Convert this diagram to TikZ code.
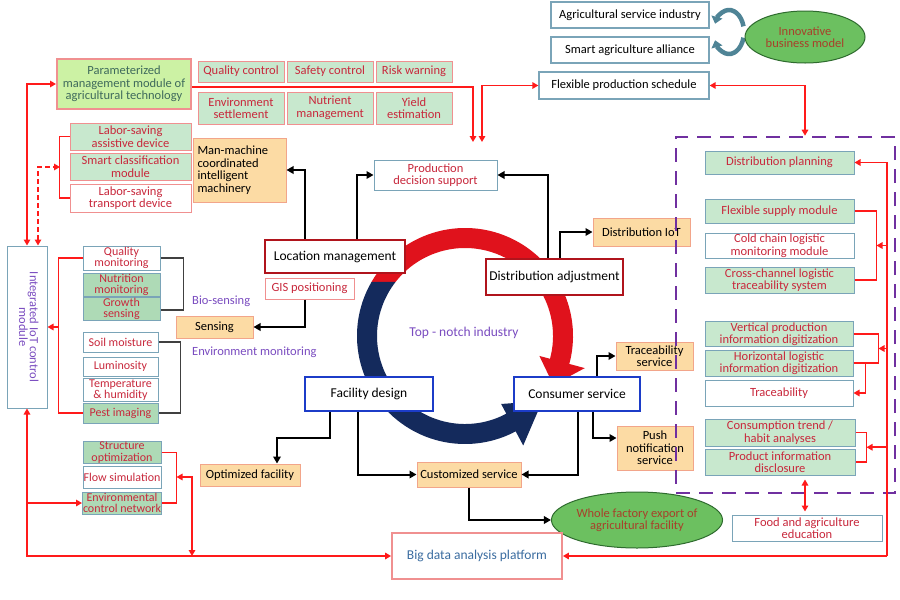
\documentclass[tikz,border=0pt]{standalone}
\usepackage{fontspec}
\setmainfont{Carlito}
\usetikzlibrary{arrows.meta,calc,shapes.geometric}
\definecolor{rtx}{HTML}{C8283C}
\definecolor{salm}{HTML}{F09090}
\definecolor{grn}{HTML}{C8E8CE}
\definecolor{grn2}{HTML}{AEDAB6}
\definecolor{stl}{HTML}{7AA4B8}
\definecolor{org}{HTML}{FCDBA4}
\definecolor{orgb}{HTML}{F2A58A}
\definecolor{lred}{HTML}{FF1A1A}
\definecolor{dred}{HTML}{B0141C}
\definecolor{dblue}{HTML}{1C3CC8}
\definecolor{navy}{HTML}{142A5C}
\definecolor{arcred}{HTML}{E0121C}
\definecolor{purp}{HTML}{7A4CC0}
\definecolor{dpurp}{HTML}{7030A0}
\definecolor{elg}{HTML}{6CC060}
\definecolor{elgb}{HTML}{2E6B2E}
\definecolor{brtx}{HTML}{A8402A}
\definecolor{ptx}{HTML}{3F6A5C}
\definecolor{bdtx}{HTML}{3A6CA0}
\definecolor{pfill}{HTML}{CCF2A4}
\definecolor{cyc}{HTML}{4F8496}
\newcommand\fs{\fontsize{12.5}{12.5}\selectfont}
\newcommand\fss{\fontsize{12}{11.5}\selectfont}
\newcommand\fl{\fontsize{13.5}{15}\selectfont}
\newcommand\mybox[7]{\node[#2,minimum width={(#5-#3)*1pt},minimum height={(#6-#4)*1pt}] (#1) at ({(#3+#5)/2},{(#4+#6)/2}) {#7};}
\tikzset{
 base/.style={draw, inner sep=0.5pt, align=center, font=\fs, line width=1pt},
 gs/.style={base, fill=grn, draw=salm, text=rtx},
 ws/.style={base, fill=white, draw=salm, text=rtx},
 gb/.style={base, fill=grn, draw=stl, text=rtx},
 gb2/.style={base, fill=grn2, draw=stl, text=rtx, font=\fss},
 wb/.style={base, fill=white, draw=stl, text=rtx},
 wbs/.style={wb, font=\fss},
 ob/.style={base, fill=org, draw=orgb, text=black},
 kb/.style={base, fill=white, draw=stl, line width=1.3pt, text=black},
 pm/.style={base, fill=pfill, draw=salm, line width=2pt, text=ptx},
 rbig/.style={base, fill=white, draw=dred, line width=2.6pt, font=\fl},
 bbig/.style={base, fill=white, draw=dblue, line width=2.6pt, font=\fl},
 bd/.style={base, fill=white, draw=salm, line width=1.8pt, text=bdtx, font=\fl},
 ell/.style={ellipse, draw=elgb, line width=1pt, fill=elg, text=brtx, align=center, font=\fs, inner sep=0pt},
 rl/.style={draw=lred, line width=1.6pt},
 rla/.style={rl, -{Triangle[length=6pt,width=6.5pt]}},
 rlb/.style={rl, {Triangle[length=6pt,width=6.5pt]}-{Triangle[length=6pt,width=6.5pt]}},
 bl/.style={draw=black, line width=2pt, -{Triangle[length=7pt,width=7.5pt]}},
 lbl/.style={text=purp, font=\fs, inner sep=0pt},
}
\begin{document}
\begin{tikzpicture}[x=1pt,y=-1pt]
\useasboundingbox (0,0) rectangle (900,600);
\fill[white] (0,0) rectangle (900,600);
% big cycle
\begin{scope}[shift={(465,336)},y=1pt]
\fill[arcred] (150:108) arc[start angle=150,end angle=-15,radius=108] -- (-15:124) -- (-29:101) -- (-15:77) -- (-15:88) arc[start angle=-15,end angle=142,radius=88] -- cycle;
\fill[navy] (150:108) arc[start angle=150,end angle=298,radius=108] -- (298:124) -- (320:101) -- (298:77) -- (298:88) arc[start angle=298,end angle=142,radius=88] -- cycle;
\end{scope}
% small cycle arrows
\begin{scope}[shift={(729,32)},y=1pt]
\draw[cyc, line width=4.5pt, -{Triangle[length=7pt,width=11pt]}] (15:15 and 22) arc[start angle=15,end angle=158,x radius=15,y radius=22];
\draw[cyc, line width=4.5pt, -{Triangle[length=7pt,width=11pt]}] (-15:15 and 22) arc[start angle=-15,end angle=-158,x radius=15,y radius=22];
\end{scope}
\node[lbl, font=\fl, text=purp] (tni) at (464,333) {Top - notch industry};
% top right
\mybox{asi}{kb}{551}{2}{709}{28}{Agricultural service industry}
\mybox{saa}{kb}{551}{37}{709}{63}{Smart agriculture alliance}
\mybox{fps}{kb}{539}{72}{709}{99}{Flexible production schedule}
\node[ell, minimum width=120pt, minimum height=52pt] (ibm) at (805,37) {Innovative\\business model};
% top left
\mybox{param}{pm}{57}{59}{191}{109}{Parameterized\\management module of\\agricultural technology}
\mybox{qc}{gs}{198}{61}{284}{82}{Quality control}
\mybox{sc}{gs}{287}{61}{373}{82}{Safety control}
\mybox{rw}{gs}{376}{61}{452}{82}{Risk warning}
\mybox{es}{gs}{198}{92}{284}{124}{Environment\\settlement}
\mybox{nm}{gs}{287}{92}{373}{124}{Nutrient\\management}
\mybox{ye}{gs}{376}{92}{452}{124}{Yield\\estimation}
\mybox{ls1}{gs}{70}{123}{191}{150}{Labor-saving\\assistive device}
\mybox{ls2}{gs}{70}{153}{191}{180}{Smart classification\\module}
\mybox{ls3}{ws}{70}{184}{191}{212}{Labor-saving\\transport device}
\mybox{mm}{ob,align=left,text width=84pt}{193}{138}{286}{202}{Man-machine\\coordinated\\intelligent\\machinery}
\mybox{pds}{wb}{374}{160}{497}{190}{Production\\decision support}
% centre
\mybox{loc}{rbig}{265}{240}{405}{273}{Location management}
\mybox{gis}{ws}{265}{278}{354}{299}{GIS positioning}
\mybox{sens}{ob}{176}{316}{253}{338}{Sensing}
\node[lbl, anchor=west] (bio) at (192,301) {Bio-sensing};
\node[lbl, anchor=west] (envm) at (192,352) {Environment monitoring};
\mybox{da}{rbig}{486}{259}{623}{295}{Distribution adjustment}
\mybox{fd}{bbig}{305}{377}{433}{411}{Facility design}
\mybox{cs}{bbig}{514}{377}{640}{411}{Consumer service}
\mybox{dio}{ob}{593}{218}{690}{246}{Distribution IoT}
\mybox{ts}{ob}{616}{342}{693}{370}{Traceability\\service}
\mybox{pns}{ob}{617}{426}{693}{470}{Push\\notification\\service}
\mybox{cust}{ob}{417}{462}{521}{487}{Customized service}
\mybox{of}{ob}{200}{464}{300}{486}{Optimized facility}
\node[ell, minimum width=164pt, minimum height=56pt] (wf) at (637,520) {Whole factory export of\\agricultural facility};
\mybox{bdp}{bd}{392}{533}{562}{579}{Big data analysis platform}
% IoT module
\mybox{iot}{wb,text=purp}{7}{246}{47}{408}{\rotatebox{-90}{\begin{tabular}{@{}c@{}}Integrated IoT control\\[-2pt] module\end{tabular}}}
% sensing group
\mybox{qm}{wbs}{83}{246}{160}{270}{Quality\\monitoring}
\mybox{nmo}{gb2}{83}{274}{160}{296}{Nutrition\\monitoring}
\mybox{gsn}{gb2}{83}{299}{160}{319}{Growth\\sensing}
\mybox{sm}{wbs}{83}{332}{158}{352}{Soil moisture}
\mybox{lum}{wbs}{83}{357}{158}{376}{Luminosity}
\mybox{th}{wbs}{83}{380}{158}{400}{Temperature\\\& humidity}
\mybox{pi}{gb2}{83}{403}{158}{423}{Pest imaging}
\mybox{so}{gb2}{83}{442}{161}{463}{Structure\\optimization}
\mybox{fs}{wbs}{83}{466}{161}{488}{Flow simulation}
\mybox{ecn}{gb2}{83}{492}{161}{514}{Environmental\\control network}
% right column
\mybox{dp}{gb}{705}{151}{854}{174}{Distribution planning}
\mybox{fsm}{gb}{705}{199}{854}{223}{Flexible supply module}
\mybox{ccm}{wb}{705}{233}{854}{258}{Cold chain logistic\\monitoring module}
\mybox{cct}{gb}{705}{267}{854}{293}{Cross-channel logistic\\traceability system}
\mybox{vp}{gb}{705}{322}{853}{346}{Vertical production\\information digitization}
\mybox{hl}{gb}{705}{350}{853}{376}{Horizontal logistic\\information digitization}
\mybox{tr}{wb}{705}{380}{853}{406}{Traceability}
\mybox{ct}{gb}{705}{419}{855}{446}{Consumption trend /\\habit analyses}
\mybox{pid}{gb}{705}{449}{855}{475}{Product information\\disclosure}
\mybox{fae}{wb}{732}{515}{882}{541}{Food and agriculture\\education}
% black connectors
\draw[bl] ([xshift=-30pt]loc.north) |- (mm.east);
\draw[bl] ([xshift=22pt]loc.north) |- (pds.west);
\draw[bl] ([xshift=-6.5pt]da.north) |- (pds.east);
\draw[bl] ([xshift=5.5pt]da.north) |- (dio.west);
\draw[bl] ([xshift=-4.5pt]gis.south) |- (sens.east);
\draw[bl] ([xshift=20pt]cs.north) |- (ts.west);
\draw[bl] ([xshift=16pt]cs.south) |- ([yshift=10pt]pns.west);
\draw[bl] ([xshift=1pt]cs.south) |- (cust.east);
\draw[bl] ([xshift=-11pt]fd.south) |- (cust.west);
\coordinate (ofk) at (277,438);
\draw[bl] ([xshift=-39pt]fd.south) |- (ofk) -- (ofk |- of.north);
\draw[bl] (cust.south) |- (wf.west);
% red connectors left
\draw[rlb] (iot.north) |- (param.west);
\coordinate (lsk) at (60,167);
\draw[rlb, dash pattern=on 5pt off 3pt] ([xshift=11pt]iot.north) |- (lsk);
\draw[rl] (ls1.west) -- ++(-10,0) |- (ls3.west);
\draw[rlb] (iot.south) |- (bdp.west);
\draw[rla] (iot.south |- ecn.west) -- (ecn.west);
\draw[rl] (qm.west) -- ++(-24,0) |- (pi.west);
\coordinate (sbk) at ([xshift=-24pt]qm.west);
\draw[rla] (sbk |- iot.east) -- (iot.east);
\draw[rl] (so.east) -- ++(15,0) |- (ecn.east);
\coordinate (bdk) at (192,556);
\draw[rlb] ([xshift=15pt]fs.east) -| (bdk);
% grey brackets
\draw[draw=black!75, line width=1.2pt] (qm.east) -- ++(23,0) |- ([yshift=-1pt]gsn.east);
\draw[draw=black!75, line width=1.2pt] (sm.east) -- ++(22,0) |- (pi.east);
% red connectors top
\coordinate (pk1) at (473,142);
\coordinate (pk2) at (482,142);
\draw[rla] ([yshift=-3pt]param.east) -| (pk1);
\draw[rlb] (pk2) |- (fps.west);
% dashed box
\node[draw=dpurp, line width=2.6pt, dash pattern=on 14pt off 9pt, minimum width=219pt, minimum height=356pt, inner sep=0pt] (dbox) at (785.5,315) {};
\draw[rlb] (fps.east) -| ([xshift=19.5pt]dbox.north);
% red connectors right
\coordinate (rk) at (887,556);
\draw[rla] (rk) |- (dp.east);
\draw[rla] (rk) -- (bdp.east);
\draw[rl] (fsm.east) -- ++(22,0) |- (cct.east);
\draw[rla] (rk |- ccm.east) -- ([xshift=22pt]ccm.east);
\draw[rl] (vp.east) -- ++(25,0) |- (hl.east);
\coordinate (vhm) at ($(vp.east)!0.5!(hl.east)+(25,0)$);
\draw[rla] (rk |- vhm) -- (vhm);
\draw[rla] (hl.east) -- ++(12,0) |- (tr.east);
\draw[rl] (ct.east) -- ++(11,0) |- (pid.east);
\coordinate (cpm) at ($(ct.east)!0.5!(pid.east)+(11,0)$);
\draw[rla] (rk |- cpm) -- (cpm);
\coordinate (fk1) at ([xshift=25pt,yshift=-4pt]pid.south);
\draw[rlb, shorten >=3pt] (fk1) -- (fk1 |- fae.north);
\end{tikzpicture}
\end{document}
